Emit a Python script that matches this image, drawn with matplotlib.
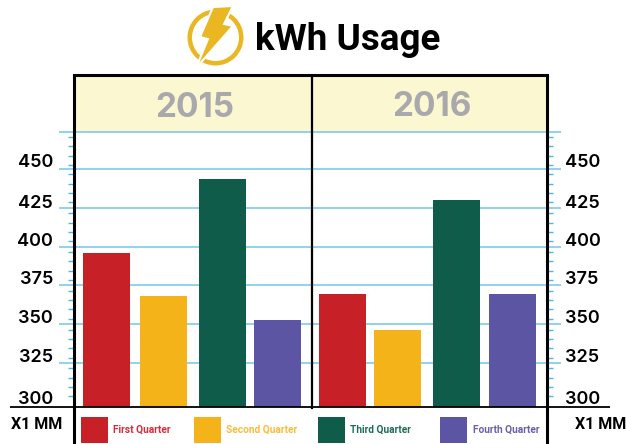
import numpy as np
import matplotlib
matplotlib.use("Agg")
import matplotlib.pyplot as plt
from matplotlib.patches import Polygon, Rectangle, Wedge
from matplotlib.transforms import ScaledTranslation

W, H = 626, 444

years = ["2015", "2016"]
quarters = ["First Quarter", "Second Quarter", "Third Quarter", "Fourth Quarter"]
usage_2015 = [396, 368, 443.5, 352.5]
usage_2016 = [369.5, 346, 430, 369.5]
y_labels = [300, 325, 350, 375, 400, 425, 450]
grid_values = [325, 350, 375, 400, 425, 450, 474]

bar_colors = ["#C72127", "#F5B31A", "#0F5C4B", "#5B55A4"]
text_colors = ["#D92B3A", "#F9BC3C", "#1F6E58", "#6A60AE"]
grid_color = "#8FD3EE"
tick_color = "#4BB9E3"
cream = "#FBF7D0"
gold = "#EAB723"


def px_to_value(y):
    return 450 - (y - 169) / 1.552


plt.rcParams["font.family"] = ["Inter", "DejaVu Sans"]

fig = plt.figure(figsize=(W / 100, H / 100), dpi=100)
left, right, top, bottom = 73.5, 546.5, 75.5, 406.5
ax = fig.add_axes([left / W, 1 - bottom / H, (right - left) / W, (bottom - top) / H])
ax.set_xlim(left, right)
ymin, ymax = px_to_value(bottom), px_to_value(top)
ax.set_ylim(ymin, ymax)

# header band
ax.axhspan(grid_values[-1], ymax, color=cream, lw=0, zorder=0)

# grid runs a bit past the frame on both sides
ax.hlines(grid_values, 59, 561, color=grid_color, lw=1.4, clip_on=False, zorder=1)
ax.hlines(ymin, 10, 610, color="black", lw=1.3, clip_on=False, zorder=4)

bar_x = [[106.5, 163.5, 222.5, 277.5], [342.5, 397.5, 456.5, 512.5]]
for xs, vals in zip(bar_x, [usage_2015, usage_2016]):
    heights = np.array(vals) - ymin
    ax.bar(xs, heights, bottom=ymin, width=47, color=bar_colors, zorder=3)

# frame
for s in ["left", "right", "top"]:
    ax.spines[s].set_linewidth(2.2)
    ax.spines[s].set_zorder(5)
ax.spines["bottom"].set_visible(False)
for x in [left, right]:
    ax.plot([x, x], [ymin, px_to_value(H + 2)], color="black", lw=2.2, clip_on=False, zorder=5)
ax.plot([312, 312], [px_to_value(408), ymax], color="black", lw=1.6, clip_on=False, zorder=5)

for name, x, y in zip(years, [195, 432], [108, 107]):
    ax.text(x, px_to_value(y), name, color="#A9A9AD", fontsize=24, fontweight="bold",
            ha="center", va="center", zorder=6)

# axis labels
ax.set_xticks([])
ax.set_yticks(y_labels)
ax.set_yticks([g - d for g in grid_values for d in (3.5, 9.5, 15.5, 21.5)], minor=True)
ax.tick_params(axis="y", which="major", length=0, left=True, right=True,
               labelleft=True, labelright=True, labelsize=13, pad=14)
ax.tick_params(axis="y", which="minor", length=4.2, width=1.0, color=tick_color,
               left=True, right=True)
# digits sit just above their gridline, the hand placed originals vary a little
label_nudge = [-2, 1, 1, 1, 1, 0, 2]
for tick, dy in zip(ax.yaxis.get_major_ticks(), label_nudge):
    shift = ScaledTranslation(-1 / 100, dy / 100, fig.dpi_scale_trans)
    for lab in [tick.label1, tick.label2]:
        lab.set_verticalalignment("baseline")
        lab.set_fontweight("semibold")
        lab.set_transform(lab.get_transform() + shift)

# overlay in pixel coordinates for title, logo and legend
ov = fig.add_axes([0, 0, 1, 1], facecolor="none")
ov.set_xlim(0, W)
ov.set_ylim(H, 0)
ov.axis("off")

ov.add_patch(Wedge((215.5, 37.5), 28, 0, 360, width=4.5, color=gold, lw=0))
bolt = [(213, 7), (233, 6), (224, 24), (233, 26), (196, 68), (208, 39), (200, 37)]
ov.add_patch(Polygon(bolt, closed=True, facecolor=gold, edgecolor="white", lw=1.5, joinstyle="miter"))
ov.text(347.5, 40, "kWh Usage", fontsize=26.5, fontweight="bold", color="black",
        ha="center", va="center", family=["Roboto", "DejaVu Sans"])

swatch_x = [81, 194, 318, 440]
label_x = [113, 226, 350, 473]
for q, sx, lx, c, tc in zip(quarters, swatch_x, label_x, bar_colors, text_colors):
    ov.add_patch(Rectangle((sx, 417), 27, 26, color=c, lw=0))
    ov.text(lx, 430, q, color=tc, fontsize=7.3, fontweight="bold", va="center",
            family=["Roboto", "DejaVu Sans"])

for x in [37, 601]:
    ov.text(x, 424, "X1 MM", fontsize=11.5, fontweight="bold", ha="center", va="center",
            family=["Roboto", "DejaVu Sans"])

fig.savefig("out.png", dpi=100)
